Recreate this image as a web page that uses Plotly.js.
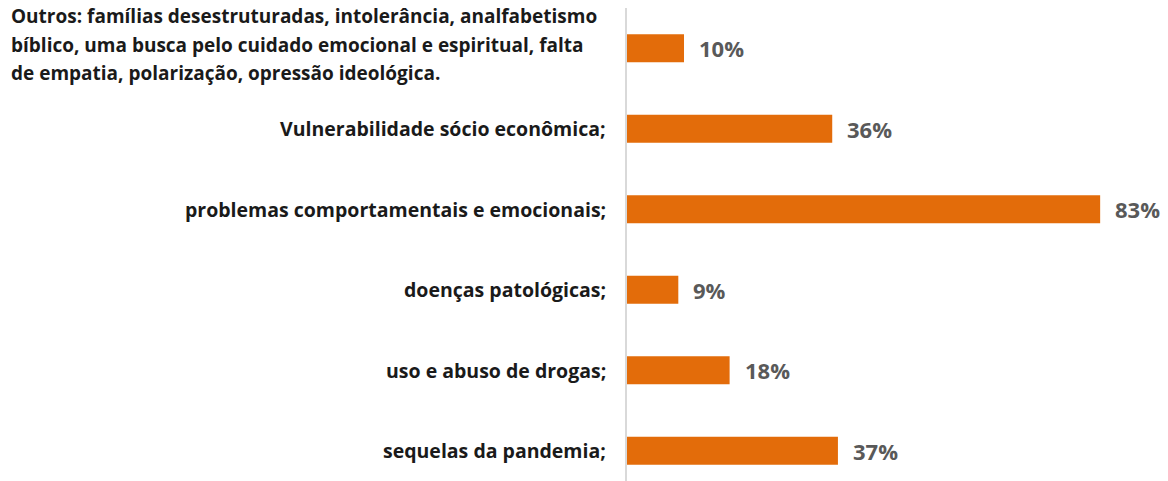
<!DOCTYPE html>
<html>
<head>
<meta charset="utf-8">
<script src="https://cdn.plot.ly/plotly-3.0.1.min.js"></script>
<style>
  html, body { margin: 0; padding: 0; background: #ffffff; }
  #chart { width: 1168px; height: 481px; }
</style>
</head>
<body>
<div id="chart"></div>
<script>
// categories bottom -> top
const categories = [
    "sequelas da pandemia;",
    "uso e abuso de drogas;",
    "doenças patológicas;",
    "problemas comportamentais e emocionais;",
    "Vulnerabilidade sócio econômica;",
    "Outros: famílias desestruturadas, intolerância, analfabetismo<br>bíblico, uma busca pelo cuidado emocional e espiritual, falta<br>de empatia, polarização, opressão ideológica."
];
const values = [37, 18, 9, 83, 36, 10];

const barColor = "#E36C0A";
const fontFamily = "'Open Sans', sans-serif";
const labelSize = 19.5;
const longLabelSize = 19;

const positions = categories.map(function(c, i) { return i; });

const trace = {
    type: "bar",
    orientation: "h",
    x: values,
    y: positions,
    marker: { color: barColor },
    hoverinfo: "skip"
};

let annotations = [];
for (let i = 0; i < categories.length; i++) {
    const multi = categories[i].indexOf("<br>") >= 0;
    // multi-line label: bigger base size for looser line spacing, text kept smaller
    const txt = multi
        ? categories[i].split("<br>").map(function(s) {
              return '<span style="font-size:' + longLabelSize + 'px">' + s + "</span>";
          }).join("<br>")
        : categories[i];
    annotations.push({
        x: 0, y: positions[i], xref: "x", yref: "y",
        text: txt,
        showarrow: false,
        xanchor: "right",
        yanchor: "middle",
        align: multi ? "left" : "right",
        xshift: multi ? -28 : -19,
        yshift: multi ? 4 : 0,
        font: { family: fontFamily, size: multi ? 22 : labelSize, color: "#1a1a1a", weight: "bold" }
    });
    annotations.push({
        x: values[i], y: positions[i], xref: "x", yref: "y",
        text: values[i] + "%",
        showarrow: false,
        xanchor: "left",
        yanchor: "middle",
        xshift: 13,
        font: { family: fontFamily, size: 22, color: "#595959", weight: "bold" }
    });
}

Plotly.newPlot("chart", [trace], {
    width: 1168,
    height: 481,
    paper_bgcolor: "#ffffff",
    plot_bgcolor: "#ffffff",
    margin: { l: 627, r: 0, t: 8, b: 0 },
    bargap: 0.65,
    showlegend: false,
    xaxis: {
        range: [0, 94.9],
        showgrid: false,
        zeroline: false,
        showticklabels: false,
        showline: false,
        fixedrange: true
    },
    yaxis: {
        range: [-0.376, 5.5],
        showgrid: false,
        zeroline: false,
        showticklabels: false,
        showline: true,
        linecolor: "#D9D9D9",
        linewidth: 2,
        fixedrange: true
    },
    annotations: annotations
}, { displayModeBar: false, staticPlot: true });
</script>
</body>
</html>
